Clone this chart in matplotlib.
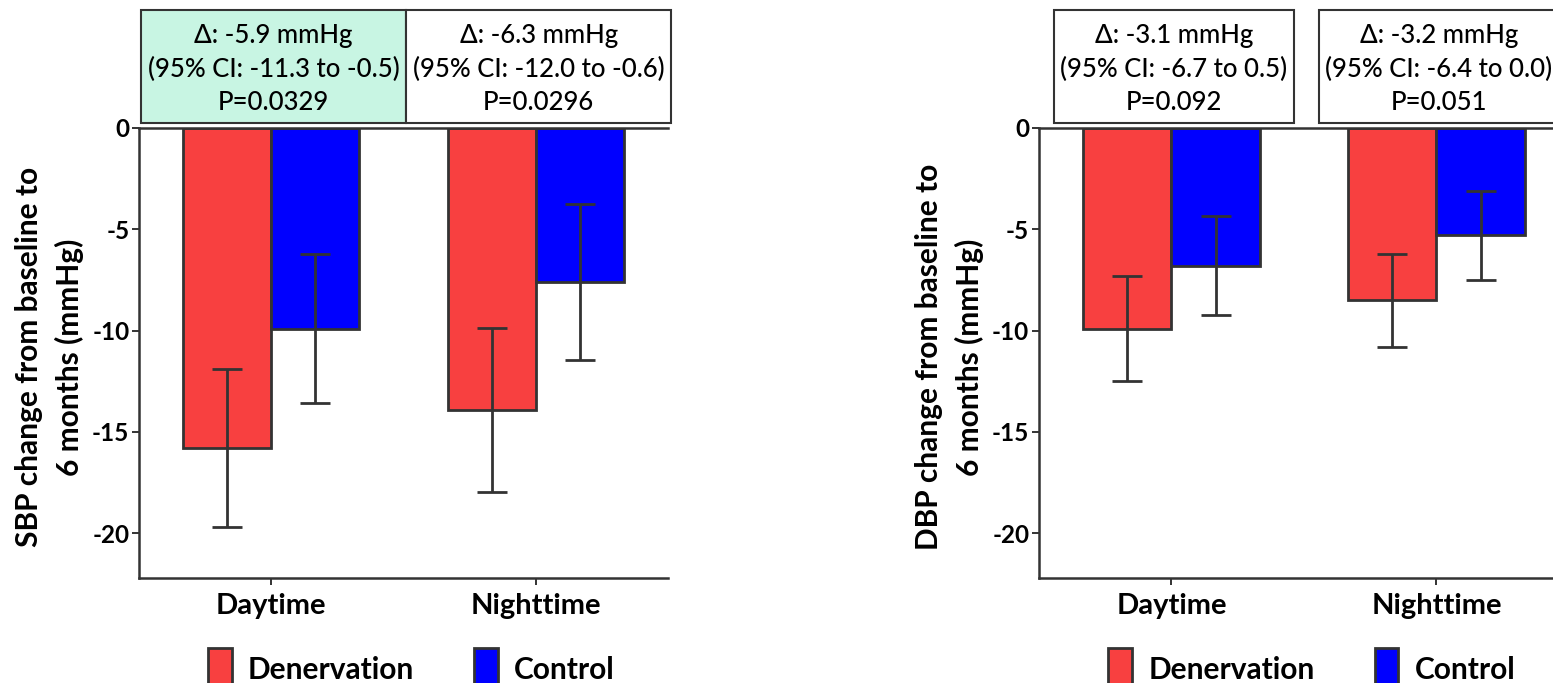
import numpy as np
import matplotlib.pyplot as plt
from matplotlib.patches import Rectangle, Patch
from matplotlib.transforms import blended_transform_factory

plt.rcParams['font.family'] = ['Lato', 'DejaVu Sans']

# 数据
categories = ['Daytime', 'Nighttime']
groups = ['Denervation', 'Control']

sbp_den = [-15.8, -13.9]
sbp_den_err = [3.9, 4.05]
sbp_ctrl = [-9.9, -7.6]
sbp_ctrl_err = [3.7, 3.85]

dbp_den = [-9.9, -8.5]
dbp_den_err = [2.6, 2.3]
dbp_ctrl = [-6.8, -5.3]
dbp_ctrl_err = [2.45, 2.2]

sbp_notes = ['Δ: -5.9 mmHg\n(95% CI: -11.3 to -0.5)\nP=0.0329',
             'Δ: -6.3 mmHg\n(95% CI: -12.0 to -0.6)\nP=0.0296']
dbp_notes = ['Δ: -3.1 mmHg\n(95% CI: -6.7 to 0.5)\nP=0.092',
             'Δ: -3.2 mmHg\n(95% CI: -6.4 to 0.0)\nP=0.051']

red = '#f84040'
blue = '#0000ff'
dark = '#333333'
mint = '#c8f5e3'

fig = plt.figure(figsize=(15.53, 6.83), dpi=100)


def panel(rect, den, den_err, ctrl, ctrl_err, ylabel, notes, boxes, fills):
    ax = fig.add_axes(rect)
    x = np.arange(len(categories))
    w = 0.333
    ekw = dict(ecolor=dark, elinewidth=2, capsize=11, capthick=2)
    ax.bar(x - w / 2, den, w, yerr=den_err, color=red, edgecolor=dark,
           linewidth=2, error_kw=ekw, label=groups[0])
    ax.bar(x + w / 2, ctrl, w, yerr=ctrl_err, color=blue, edgecolor=dark,
           linewidth=2, error_kw=ekw, label=groups[1])

    ax.set_xlim(-0.5, 1.5)
    ax.set_ylim(-22.2, 0)
    ax.set_yticks([0, -5, -10, -15, -20])
    ax.set_yticklabels(['0', '-5', '-10', '-15', '-20'])
    ax.set_xticks(x)
    ax.set_xticklabels(categories)
    ax.spines['right'].set_visible(False)
    for s in ['left', 'bottom', 'top']:
        ax.spines[s].set_color(dark)
        ax.spines[s].set_linewidth(1.8)
    ax.tick_params(axis='y', length=5, width=1.4, color=dark, labelsize=17.5, pad=2)
    ax.tick_params(axis='x', length=5, width=1.4, color=dark, labelsize=21, pad=6)
    for lab in ax.get_xticklabels() + ax.get_yticklabels():
        lab.set_fontweight('bold')
    ax.set_ylabel(ylabel, fontsize=21.5, fontweight='bold', linespacing=1.5)
    ax.yaxis.set_label_coords(-0.104, 0.49)

    # 顶部的差值框
    tr = blended_transform_factory(ax.transData, ax.transAxes)
    for (x0, x1), note, fc in zip(boxes, notes, fills):
        ax.add_patch(Rectangle((x0, 1.012), x1 - x0, 0.25, transform=tr,
                               facecolor=fc, edgecolor=dark, linewidth=1.5,
                               clip_on=False))
        ax.text((x0 + x1) / 2, 1.131, note, transform=tr, ha='center',
                va='center', fontsize=18.5, linespacing=1.42,
                fontweight='medium', family=['Lato', 'DejaVu Sans'])

    handles = [Patch(facecolor=red, edgecolor=dark, linewidth=2),
               Patch(facecolor=blue, edgecolor=dark, linewidth=2)]
    ax.legend(handles, groups, loc='upper center', bbox_to_anchor=(0.515, -0.157),
              ncol=2, frameon=False, borderaxespad=0, borderpad=0,
              handlelength=0.8, handleheight=1.8, handletextpad=0.55,
              columnspacing=2.0, prop=dict(size=21.5, weight='bold'))
    return ax


panel([0.0895, 0.1542, 0.3406, 0.6584], sbp_den, sbp_den_err, sbp_ctrl,
      sbp_ctrl_err, 'SBP change from baseline to\n6 months (mmHg)', sbp_notes,
      [(-0.494, 0.511), (0.511, 1.511)], [mint, 'white'])
panel([0.669, 0.1542, 0.3413, 0.6584], dbp_den, dbp_den_err, dbp_ctrl,
      dbp_ctrl_err, 'DBP change from baseline to\n6 months (mmHg)', dbp_notes,
      [(-0.444, 0.463), (0.557, 1.46)], ['white', 'white'])

fig.savefig('out.png', dpi=100)
